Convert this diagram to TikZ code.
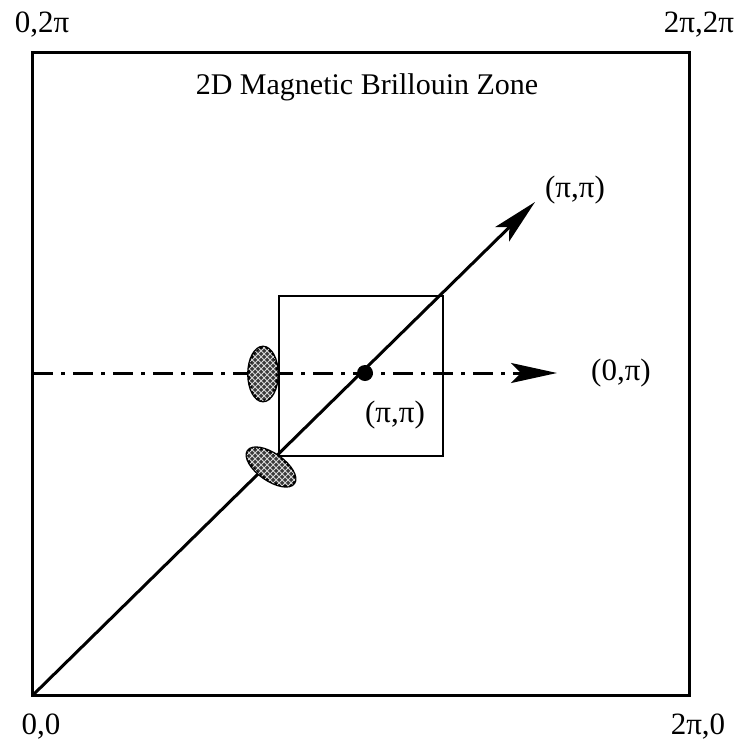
\documentclass[tikz,border=0pt]{standalone}
\usepackage{fontspec}
\setmainfont{Liberation Serif}
\usetikzlibrary{arrows.meta,positioning,shapes.geometric,patterns}
\definecolor{hatchgray}{HTML}{3A3A3A}

\begin{document}
\begin{tikzpicture}[x=0.5pt,y=-0.5pt,font=\fontsize{15.5}{18}\selectfont,
  blob/.style={ellipse,draw,line width=1.4pt,inner sep=0pt,fill=hatchgray,
    postaction={pattern=crosshatch,pattern color=white!85!black}},
  bigarrow/.style={-{Stealth[length=23pt,width=10pt,inset=5pt]}}]
  \useasboundingbox (0,0) rectangle (743,750);
  % zone and inner square
  \draw[line width=1.5pt] (32,52) rectangle (689,695);
  \draw[line width=1.1pt] (279,296) rectangle (443,456);
  \node[font=\fontsize{15}{18}\selectfont] (title) at (367,87) {2D Magnetic Brillouin Zone};
  % corners
  \node (c00) at (41,727) {0,0};
  \node (c20) at (698,727) {2π,0};
  \node (c02) at (42,25) {0,2π};
  \node (c22) at (699,25) {2π,2π};
  % lines
  \coordinate (o) at (34,694);
  \coordinate (d) at (33,373);
  \node[circle,fill,inner sep=0pt,minimum size=8pt] (m) at (365,373) {};
  \coordinate (tipd) at (535,202);
  \coordinate (tiph) at (557,373);
  \draw[line width=1.5pt,bigarrow] (o) -- (tipd);
  \draw[line width=1.5pt,dash pattern=on 10pt off 4pt on 2pt off 4pt,bigarrow] (d) -- (tiph);
  \node (qd) at (575,190) {(π,π)};
  \node (qh) at (621,373) {(0,π)};
  \node (qm) at (395,415) {(π,π)};
  % hot spots
  \node[blob,minimum width=14.5pt,minimum height=27pt] (s1) at (263,374) {};
  \node[blob,minimum width=28pt,minimum height=13pt,rotate=-35] (s2) at (271,467) {};
\end{tikzpicture}
\end{document}
